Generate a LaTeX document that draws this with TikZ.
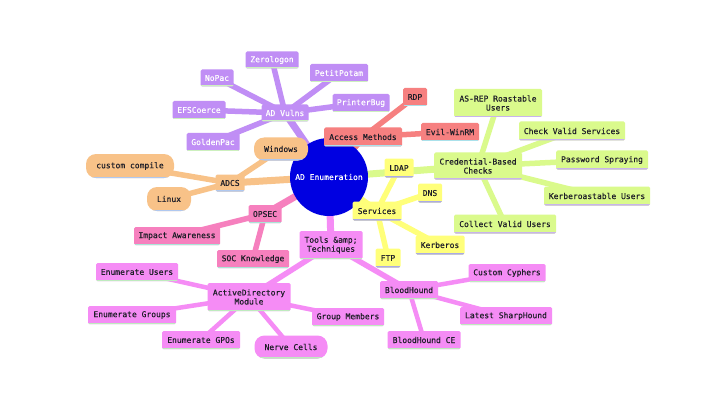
\documentclass[tikz,border=0pt]{standalone}
\usepackage{fontspec}
\setmainfont{DejaVu Sans Mono}
\newfontfamily\mmfont[FakeBold=0.35]{DejaVu Sans Mono}
\usetikzlibrary{backgrounds}
\definecolor{cpurp}{RGB}{192,142,245}
\definecolor{cpurpl}{RGB}{205,240,190}
\definecolor{cred}{RGB}{246,128,128}
\definecolor{credl}{RGB}{170,225,235}
\definecolor{cgreen}{RGB}{218,250,140}
\definecolor{cgreenl}{RGB}{200,180,235}
\definecolor{cyel}{RGB}{255,255,122}
\definecolor{cyell}{RGB}{170,170,230}
\definecolor{cmag}{RGB}{245,140,245}
\definecolor{cmagl}{RGB}{190,235,190}
\definecolor{cpink}{RGB}{246,128,190}
\definecolor{cpinkl}{RGB}{170,230,215}
\definecolor{corg}{RGB}{248,194,136}
\definecolor{corgl}{RGB}{175,200,240}
\definecolor{cblue}{RGB}{0,0,225}
\definecolor{ctext}{RGB}{30,30,40}
\tikzset{
  x=1pt,y=-1pt,
  mm/.style={rectangle, rounded corners=1.5pt, inner sep=1pt, align=center, font=\mmfont\fontsize{8}{9}\selectfont, text=ctext},
  bline/.style={path picture={\draw[line width=2.2pt,#1] (path picture bounding box.south west) -- (path picture bounding box.south east);}},
  np/.style={mm, fill=cpurp, text=white, bline=cpurpl},
  nr/.style={mm, fill=cred, bline=credl},
  ng/.style={mm, fill=cgreen, bline=cgreenl},
  ny/.style={mm, fill=cyel, bline=cyell},
  nm/.style={mm, fill=cmag, bline=cmagl},
  nk/.style={mm, fill=cpink, bline=cpinkl},
  no/.style={mm, fill=corg, bline=corgl},
  round/.style={rounded corners=10pt},
  sz/.style 2 args={minimum width=#1pt, minimum height=#2pt},
  e1/.style={line width=7pt},
  e2/.style={line width=5.5pt},
  e3/.style={line width=4.5pt},
}
\begin{document}
\begin{tikzpicture}
\useasboundingbox (0,0) rectangle (720,401);
% nodes
\node[circle, fill=cblue, text=white, minimum size=78pt, inner sep=0pt, font=\mmfont\fontsize{8}{9}\selectfont] (c) at (329,177) {AD Enumeration};
% purple
\node[np, sz={47}{17}] (adv) at (285,113) {AD Vulns};
\node[np, sz={53}{17}] (zer) at (272,60) {Zerologon};
\node[np, sz={58}{18}] (pet) at (339,73) {PetitPotam};
\node[np, sz={33}{17}] (nop) at (217,78) {NoPac};
\node[np, sz={53}{18}] (efs) at (199,110) {EFSCoerce};
\node[np, sz={57}{18}] (pri) at (361,103) {PrinterBug};
\node[np, sz={53}{18}] (gol) at (213,142) {GoldenPac};
% red
\node[nr, sz={78}{19}] (acc) at (363,137) {Access Methods};
\node[nr, sz={24}{18}] (rdp) at (415,97) {RDP};
\node[nr, sz={58}{18}] (evi) at (450,132) {Evil-WinRM};
% green
\node[ng, sz={88}{27}] (cred) at (478,166) {Credential-Based\\Checks};
\node[ng, sz={88}{28}] (asr) at (498,103) {AS-REP Roastable\\Users};
\node[ng, sz={106}{19}] (cvs) at (572,131) {Check Valid Services};
\node[ng, sz={92}{19}] (pas) at (602,160) {Password Spraying};
\node[ng, sz={106}{19}] (ker) at (597,196) {Kerberoastable Users};
\node[ng, sz={102}{19}] (cvu) at (505,224) {Collect Valid Users};
% yellow
\node[ny, sz={49}{19}] (ser) at (377,211) {Services};
\node[ny, sz={29}{19}] (ldap) at (399,168) {LDAP};
\node[ny, sz={24}{19}] (dns) at (430,193) {DNS};
\node[ny, sz={49}{19}] (kerb) at (440,245) {Kerberos};
\node[ny, sz={25}{19}] (ftp) at (388,258) {FTP};
% magenta
\node[nm, sz={63}{28}] (tools) at (331,245) {Tools \&amp;\\Techniques};
\node[nm, sz={58}{18}] (bh) at (409,290) {BloodHound};
\node[nm, sz={77}{18}] (cc) at (507,273) {Custom Cyphers};
\node[nm, sz={92}{18}] (lsh) at (506,316) {Latest SharpHound};
\node[nm, sz={73}{18}] (bhce) at (424,340) {BloodHound CE};
\node[nm, sz={83}{28}] (adm) at (249,297) {ActiveDirectory\\Module};
\node[nm, sz={72}{18}] (gm) at (348,317) {Group Members};
\node[nm, round, sz={73}{23}] (nc) at (291,347) {Nerve Cells};
\node[nm, sz={82}{18}] (eu) at (137,272) {Enumerate Users};
\node[nm, sz={88}{18}] (eg) at (132,315) {Enumerate Groups};
\node[nm, sz={78}{18}] (egp) at (201,340) {Enumerate GPOs};
% pink
\node[nk, sz={33}{18}] (ops) at (265,214) {OPSEC};
\node[nk, sz={86}{18}] (imp) at (177,236) {Impact Awareness};
\node[nk, sz={72}{18}] (soc) at (253,259) {SOC Knowledge};
% orange
\node[no, sz={29}{17}] (adcs) at (230,183) {ADCS};
\node[no, round, sz={54}{23}] (win) at (281,149) {Windows};
\node[no, round, sz={88}{24}] (cus) at (130,166) {custom compile};
\node[no, round, sz={44}{24}] (lin) at (169,199) {Linux};
% edges (behind)
\begin{scope}[on background layer]
\fill[white] (0,0) rectangle (720,401);
\draw[e1,cpurp] (c.center) -- (adv.center);
\draw[e1,cred] (c.center) -- (acc.center);
\draw[e1,cgreen] (c.center) -- (cred.center);
\draw[e1,cyel] (c.center) -- (ser.center);
\draw[e1,cmag] (c.center) -- (tools.center);
\draw[e1,cpink] (c.center) -- (ops.center);
\draw[e1,corg] (c.center) -- (adcs.center);
\foreach \n in {zer,pet,nop,efs,pri,gol} \draw[e2,cpurp] (adv.center) -- (\n.center);
\foreach \n in {rdp,evi} \draw[e2,cred] (acc.center) -- (\n.center);
\foreach \n in {asr,cvs,pas,ker,cvu} \draw[e2,cgreen] (cred.center) -- (\n.center);
\foreach \n in {ldap,dns,kerb,ftp} \draw[e2,cyel] (ser.center) -- (\n.center);
\foreach \n in {adm,bh} \draw[e2,cmag] (tools.center) -- (\n.center);
\foreach \n in {eu,eg,egp,nc,gm} \draw[e3,cmag] (adm.center) -- (\n.center);
\foreach \n in {cc,lsh,bhce} \draw[e3,cmag] (bh.center) -- (\n.center);
\foreach \n in {imp,soc} \draw[e2,cpink] (ops.center) -- (\n.center);
\foreach \n in {win,cus,lin} \draw[e2,corg] (adcs.center) -- (\n.center);
\end{scope}
\end{tikzpicture}
\end{document}
